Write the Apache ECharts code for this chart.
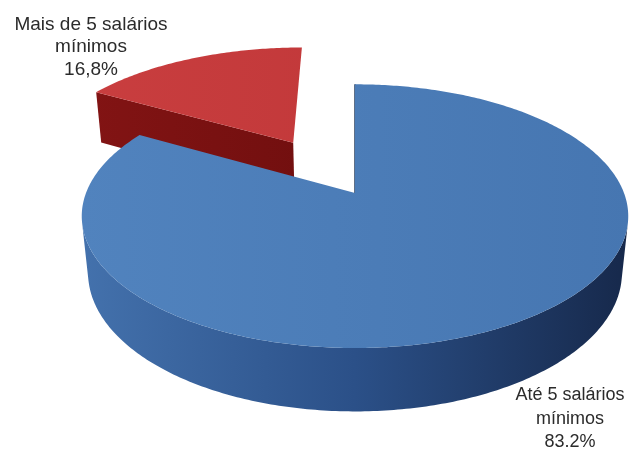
<!DOCTYPE html>
<html><head><meta charset="utf-8">
<script src="https://cdn.jsdelivr.net/npm/echarts@6/dist/echarts.min.js"></script>
<style>html,body{margin:0;padding:0;background:#fff}#c{width:634px;height:454px}</style>
</head><body><div id="c"></div>
<script>
// ---- data ----
const categories = ['Até 5 salários mínimos', 'Mais de 5 salários mínimos'];
const values = [83.2, 16.8];
const valueLabels = ['83.2%', '16,8%'];
const labelLines = [['Até 5 salários', 'mínimos'], ['Mais de 5 salários', 'mínimos']];
const explode = [0, 0.49];

// ---- styling / view ----
const topColors = [['#5183be', '#4676b1'], ['#c93e3f', '#bb3335']];
const wallColors = [['#4472ad', '#2b5088', '#16284a'], ['#8a1616', '#6e0e0e', '#4e0707']];
const faceColors = [['#2a4a78', '#1c3356'], ['#831414', '#5a0808']];
const view = { cx: 355, cy: 193, s: 269, dist: 5.01, alpha: Math.asin(0.475), t: 0.242 };

const ca = Math.cos(view.alpha), sa = Math.sin(view.alpha);
const cam = [0, -view.dist * ca, view.dist * sa];
function proj(x, y, z) {
  const depth = y * ca - z * sa + view.dist;
  const v = y * sa + z * ca;
  const k = view.s * view.dist / depth;
  return [view.cx + x * k, view.cy - v * k];
}
const total = values.reduce((a, b) => a + b, 0);
const slices = values.map((v, i) => {
  const before = values.slice(0, i).reduce((a, b) => a + b, 0);
  const start = before / total * 2 * Math.PI;
  const end = (before + v) / total * 2 * Math.PI;
  const mid = (start + end) / 2;
  const ox = explode[i] * Math.sin(mid), oy = explode[i] * Math.cos(mid);
  const px = ox + 0.5 * Math.sin(mid), py = oy + 0.5 * Math.cos(mid);
  const depth = py * ca + view.dist;
  return { start, end, mid, ox, oy, depth };
});
const order = slices.map((s, i) => i).sort((a, b) => slices[b].depth - slices[a].depth);
const rank = []; order.forEach((idx, r) => rank[idx] = r);

function grad(stops) {
  const x0 = view.cx - view.s * 1.03, x1 = view.cx + view.s * 1.03;
  return new echarts.graphic.LinearGradient(x0, 0, x1, 0,
    stops.map((c, k) => ({ offset: k / (stops.length - 1), color: c })), true);
}

function renderItem(params, api) {
  const i = params.dataIndex;
  const sl = slices[i];
  const children = [];
  const base = rank[i] * 10;
  const n = Math.max(8, Math.ceil((sl.end - sl.start) / (Math.PI / 240)));
  const t = view.t;
  // outer wall (visible parts)
  let run = [];
  const runs = [];
  for (let k = 0; k <= n; k++) {
    const th = sl.start + (sl.end - sl.start) * k / n;
    const nx = Math.sin(th), ny = Math.cos(th);
    const P = [sl.ox + nx, sl.oy + ny, 0];
    const dot = nx * (cam[0] - P[0]) + ny * (cam[1] - P[1]);
    if (dot > 0) run.push(th); else { if (run.length > 1) runs.push(run); run = []; }
  }
  if (run.length > 1) runs.push(run);
  runs.forEach(r => {
    const topPts = r.map(th => proj(sl.ox + Math.sin(th), sl.oy + Math.cos(th), 0));
    const botPts = r.map(th => proj(sl.ox + Math.sin(th), sl.oy + Math.cos(th), -t)).reverse();
    children.push({ type: 'polygon', z2: base, shape: { points: topPts.concat(botPts) },
      style: { fill: grad(wallColors[i]) } });
  });
  // radial faces (camera treated as horizontally aligned with the slice)
  [[sl.start, -1], [sl.end, 1]].forEach(([th, sgn]) => {
    const nx = sgn * Math.cos(th), ny = -sgn * Math.sin(th);
    const dot = ny * (cam[1] - sl.oy);
    if (dot < -1e-6) return;
    const edge = Math.abs(dot) < 1e-6;
    if (edge && explode[i] > 0) return;
    const a0 = proj(sl.ox, sl.oy, 0), a1 = proj(sl.ox, sl.oy, -t);
    const o0 = proj(sl.ox + Math.sin(th), sl.oy + Math.cos(th), 0);
    const o1 = proj(sl.ox + Math.sin(th), sl.oy + Math.cos(th), -t);
    children.push({ type: 'polygon', z2: base + 1, shape: { points: [a0, o0, o1, a1] },
      style: { fill: grad(faceColors[i]), stroke: edge ? faceColors[i][1] : null, lineWidth: edge ? 1.4 : 0 } });
  });
  // top face
  const pts = [proj(sl.ox, sl.oy, 0)];
  for (let k = 0; k <= n; k++) {
    const th = sl.start + (sl.end - sl.start) * k / n;
    pts.push(proj(sl.ox + Math.sin(th), sl.oy + Math.cos(th), 0));
  }
  children.push({ type: 'polygon', z2: base + 2, shape: { points: pts },
    style: { fill: grad(topColors[i]) } });
  return { type: 'group', children };
}

const chart = echarts.init(document.getElementById('c'), null, { renderer: 'canvas' });
chart.setOption({
  backgroundColor: '#ffffff',
  animation: false,
  series: [{
    type: 'custom',
    coordinateSystem: 'none',
    renderItem,
    data: values.map((v, i) => ({ name: categories[i], value: v }))
  }],
  graphic: [
    { type: 'text', x: 91, y: 47, z: 10,
      style: { text: labelLines[1].join('\n') + '\n' + valueLabels[1], fill: '#2b2b2b',
        font: '19px "Liberation Sans", Arial, sans-serif', lineHeight: 22.5,
        align: 'center', verticalAlign: 'middle' } },
    { type: 'text', x: 570, y: 419, z: 10,
      style: { text: labelLines[0].join('\n') + '\n' + valueLabels[0], fill: '#2b2b2b',
        font: '18px "Liberation Sans", Arial, sans-serif', lineHeight: 23.5,
        align: 'center', verticalAlign: 'middle' } }
  ]
});
</script></body></html>
